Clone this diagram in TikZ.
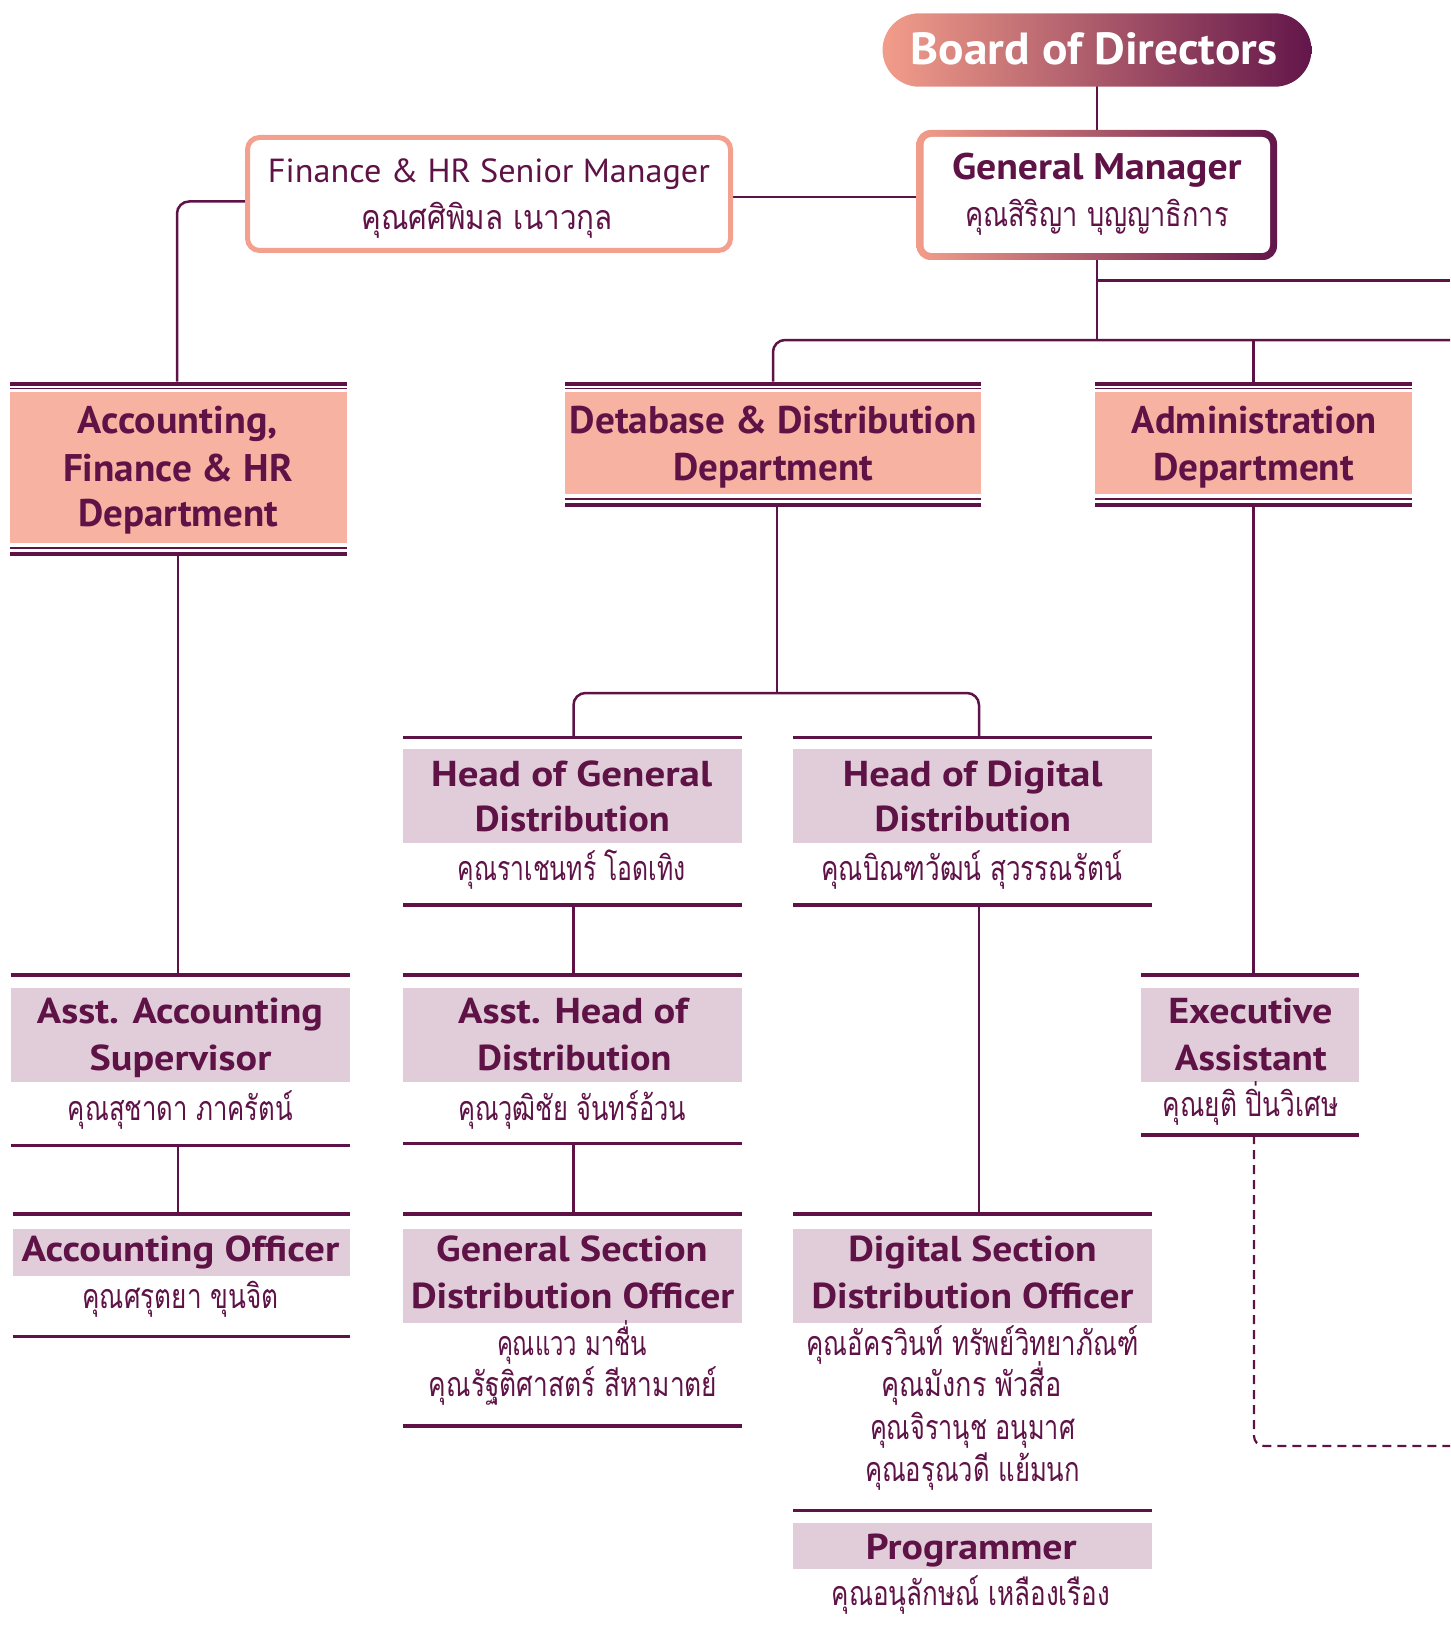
\documentclass[tikz,border=0pt]{standalone}
\usepackage{fontspec}
\usepackage{graphicx}
\setmainfont{PT Sans}
\newfontfamily\thaifnt[Script=Thai]{Loma}
\definecolor{pur}{HTML}{5F1246}
\definecolor{sal}{HTML}{F7B2A2}
\definecolor{salb}{HTML}{F4A08E}
\definecolor{lav}{HTML}{E0CDD9}
\definecolor{gl}{HTML}{F29D8A}
\definecolor{gr}{HTML}{63164A}
\newcommand\fitt[2]{\resizebox{#1pt}{\height}{#2}}
\newcommand\deptf{\fontsize{38.5}{40}\selectfont\bfseries}
\newcommand\lavf{\fontsize{36}{38}\selectfont\bfseries}
\newcommand\namef{\fontsize{34}{36}\selectfont\thaifnt}
\tikzset{
  tx/.style={anchor=base, inner sep=0pt, outer sep=0pt, text=pur},
  conn/.style={draw=pur, line width=2.5pt},
  dashconn/.style={draw=pur, line width=2.2pt, dash pattern=on 9pt off 6pt},
  boxline/.style={draw=pur, line width=3.3pt},
  thickrule/.style={draw=pur, line width=4pt},
  thinrule/.style={draw=pur, line width=1.4pt},
}
% dept box: name, x1, x2, filltop, fillbottom
\newcommand\deptbox[5]{%
  \draw[thickrule] (#2,#4-8) -- (#3,#4-8);
  \draw[thinrule] (#2,#4-3.4) -- (#3,#4-3.4);
  \node[fill=sal, inner sep=0pt, minimum width={(#3-#2)*1pt}, minimum height={(#5-#4)*1pt}] (#1) at ({(#2+#3)/2},{(#4+#5)/2}) {};
  \draw[thinrule] (#2,#5+5) -- (#3,#5+5);
  \draw[thickrule] (#2,#5+10.5) -- (#3,#5+10.5);
}
% lavender box: name, x1, x2, topline, filltop, fillbottom, bottomline
\newcommand\lavbox[7]{%
  \draw[boxline] (#2,#4) -- (#3,#4);
  \node[fill=lav, inner sep=0pt, minimum width={(#3-#2)*1pt}, minimum height={(#6-#5)*1pt}] (#1) at ({(#2+#3)/2},{(#5+#6)/2}) {};
  \draw[boxline] (#2,#7) -- (#3,#7);
}
\begin{document}
\begin{tikzpicture}[x=1pt,y=-1pt]
\useasboundingbox (0,0) rectangle (1450,1629);

% ---------- connection points ----------
\coordinate (boardB) at (1097,86);
\coordinate (gmT) at (1097,131);
\coordinate (gmL) at (917,197);
\coordinate (finR) at (733,197);
\coordinate (finL) at (245,201.5);
\coordinate (accT) at (177,381.7);
\coordinate (gmB) at (1097,259);
\coordinate (j1) at (1097,340);
\coordinate (j0) at (1097,280.7);
\coordinate (edge1) at (1450,280.7);
\coordinate (edge2) at (1450,340);
\coordinate (dbT) at (773,381.7);
\coordinate (adT) at (1253.5,381.7);
\coordinate (accB) at (178,555.5);
\coordinate (dbB) at (777,506);
\coordinate (j2) at (777,693);
\coordinate (hgT) at (573.5,737.5);
\coordinate (hdT) at (979,737.5);
\coordinate (adB) at (1253.5,506);
\coordinate (exT) at (1253.5,975);
\coordinate (hgB) at (573.5,905);
\coordinate (ahT) at (573.5,975);
\coordinate (hdB) at (979,905);
\coordinate (dsT) at (979,1214);
\coordinate (aaT) at (178,975);
\coordinate (aaB) at (178,1145.7);
\coordinate (aoT) at (178,1214);
\coordinate (ahB) at (573.5,1143.3);
\coordinate (gsT) at (573.5,1214);
\coordinate (exB) at (1254,1135);
\coordinate (edge3) at (1450,1446);

% ---------- connectors ----------
\draw[conn] (boardB) -- (gmT);
\draw[conn] (gmL) -- (finR);
\draw[conn, rounded corners=12pt] (finL) -| (accT);
\draw[conn] (gmB) -- (j1);
\draw[conn] (j0) -- (edge1);
\draw[conn, rounded corners=12pt] (edge2) -| (dbT);
\draw[conn] (adT |- j1) -- (adT);
\draw[conn] (accB) -- (aaT);
\draw[conn] (dbB) -- (j2);
\draw[conn, rounded corners=12pt] (hgT) |- (j2) -| (hdT);
\draw[conn] (adB) -- (exT);
\draw[conn] (hgB) -- (ahT);
\draw[conn] (hdB) -- (dsT);
\draw[conn] (aaB) -- (aoT);
\draw[conn] (ahB) -- (gsT);
\draw[dashconn, rounded corners=10pt] (exB) |- (edge3);

% ---------- Board of Directors ----------
\node[left color=gl, right color=gr, rounded corners=36.7pt, minimum width=428.9pt, minimum height=73.4pt, inner sep=0pt] (board) at (1097,50) {};
\node[tx, text=white] (boardt) at (1094.1,65) {\fitt{366.6}{\fontsize{45}{46}\selectfont\bfseries Board of Directors}};

% ---------- General Manager ----------
\node[left color=gl, right color=gr, rounded corners=14pt, minimum width=360.5pt, minimum height=130pt, inner sep=0pt] (gmframe) at (1096.75,195) {};
\node[fill=white, rounded corners=8pt, minimum width=346.5pt, minimum height=116pt, inner sep=0pt] (gm) at (1096.75,195) {};
\node[tx] (gmt) at (1096.8,180) {\fitt{289.6}{\fontsize{37}{38}\selectfont\bfseries General Manager}};
\node[tx] (gmn) at (1096.8,226.7) {\fitt{263.6}{\namef คุณสิริญา บุญญาธิการ}};

% ---------- Finance & HR Senior Manager ----------
\node[draw=salb, line width=5pt, fill=white, rounded corners=12pt, minimum width=483pt, minimum height=113pt, inner sep=0pt] (fin) at (489,194) {};
\node[tx] (fint) at (489,182.7) {\fitt{442}{\fontsize{33.4}{35}\selectfont Finance \& HR Senior Manager}};
\node[tx] (finn) at (487.3,230) {\fitt{251.3}{\namef คุณศศิพิมล เนาวกุล}};

% ---------- Departments ----------
\deptbox{acc}{10}{346.7}{391.7}{543}
\node[tx] (acct1) at (178,433.3) {\fitt{200}{\deptf Accounting,}};
\node[tx] (acct2) at (178,481.7) {\fitt{230}{\deptf Finance \& HR}};
\node[tx] (acct3) at (178,526.7) {\fitt{200}{\deptf Department}};

\deptbox{db}{565}{981}{391.7}{494}
\node[tx] (dbt1) at (773.3,433.3) {\fitt{407}{\deptf Detabase \& Distribution}};
\node[tx] (dbt2) at (773,480) {\fitt{200}{\deptf Department}};

\deptbox{ad}{1095}{1412}{391.7}{494}
\node[tx] (adt1) at (1254.3,433.3) {\fitt{245}{\deptf Administration}};
\node[tx] (adt2) at (1253.5,480) {\fitt{201}{\deptf Department}};

% ---------- Heads ----------
\lavbox{hg}{403}{742}{737.5}{749.3}{842.7}{905}
\node[tx] (hgt1) at (571.6,786.7) {\fitt{281}{\lavf Head of General}};
\node[tx] (hgt2) at (572.4,831.7) {\fitt{195}{\lavf Distribution}};
\node[tx] (hgn) at (571.8,880) {\fitt{227.8}{\namef คุณราเชนทร์ โอดเทิง}};

\lavbox{hd}{793}{1151.5}{737.5}{749.3}{842.7}{905}
\node[tx] (hdt1) at (972.7,786.7) {\fitt{259.5}{\lavf Head of Digital}};
\node[tx] (hdt2) at (972.8,831.7) {\fitt{196.3}{\lavf Distribution}};
\node[tx] (hdn) at (971.7,880) {\fitt{300.5}{\namef คุณบิณฑวัฒน์ สุวรรณรัตน์}};

% ---------- Assistants ----------
\lavbox{aa}{10.5}{350}{975}{988.3}{1081.7}{1145.7}
\node[tx] (aat1) at (180,1023.3) {\fitt{286}{\lavf Asst. Accounting}};
\node[tx] (aat2) at (180.5,1070) {\fitt{181.7}{\lavf Supervisor}};
\node[tx] (aan) at (180.5,1120) {\fitt{225}{\namef คุณสุชาดา ภาครัตน์}};

\lavbox{ah}{403}{742}{975}{988.3}{1081.7}{1143.3}
\node[tx] (aht1) at (573,1023.3) {\fitt{230}{\lavf Asst. Head of}};
\node[tx] (aht2) at (574.4,1070) {\fitt{194}{\lavf Distribution}};
\node[tx] (ahn) at (572,1120) {\fitt{228}{\namef คุณวุฒิชัย จันทร์อ้วน}};

\lavbox{ex}{1141}{1359}{975}{988.3}{1081.7}{1135}
\node[tx] (ext1) at (1250.3,1023.3) {\fitt{164}{\lavf Executive}};
\node[tx] (ext2) at (1250.8,1070) {\fitt{151.7}{\lavf Assistant}};
\node[tx] (exn) at (1250.5,1116.7) {\fitt{175.6}{\namef คุณยุติ ปิ่นวิเศษ}};

% ---------- Officers ----------
\lavbox{ao}{12.5}{350}{1214}{1229.3}{1276}{1336.7}
\node[tx] (aot1) at (180.5,1261.7) {\fitt{317.5}{\lavf Accounting Officer}};
\node[tx] (aon) at (180.5,1308) {\fitt{196}{\namef คุณศรุตยา ขุนจิต}};

\lavbox{gs}{403}{742}{1214}{1229.3}{1322.7}{1426}
\node[tx] (gst1) at (571.9,1261.7) {\fitt{271.4}{\lavf General Section}};
\node[tx] (gst2) at (572.7,1308.3) {\fitt{323.3}{\lavf Distribution Officer}};
\node[tx] (gsn1) at (572,1355) {\fitt{150}{\namef คุณแวว มาชื่น}};
\node[tx] (gsn2) at (573.2,1396.7) {\fitt{288.4}{\namef คุณรัฐติศาสตร์ สีหามาตย์}};

\lavbox{ds}{793}{1151.5}{1214}{1229.3}{1322.7}{1510.7}
\node[tx] (dst1) at (972.5,1261.7) {\fitt{248.3}{\lavf Digital Section}};
\node[tx] (dst2) at (972.5,1308.3) {\fitt{321.7}{\lavf Distribution Officer}};
\node[tx] (dsn1) at (972.5,1355) {\fitt{331.7}{\namef คุณอัครวินท์ ทรัพย์วิทยาภัณฑ์}};
\node[tx] (dsn2) at (971.7,1396.7) {\fitt{180}{\namef คุณมังกร พัวสื่อ}};
\node[tx] (dsn3) at (972.5,1439.5) {\fitt{205}{\namef คุณจิรานุช อนุมาศ}};
\node[tx] (dsn4) at (972.5,1481.7) {\fitt{215}{\namef คุณอรุณวดี แย้มนก}};

\node[fill=lav, inner sep=0pt, minimum width=358.5pt, minimum height=46pt] (pg) at (972.25,1546.3) {};
\node[tx] (pgt) at (971.3,1559.3) {\fitt{210.7}{\lavf Programmer}};
\node[tx] (pgn) at (970.8,1605) {\fitt{278.3}{\namef คุณอนุลักษณ์ เหลืองเรือง}};
\end{tikzpicture}
\end{document}
